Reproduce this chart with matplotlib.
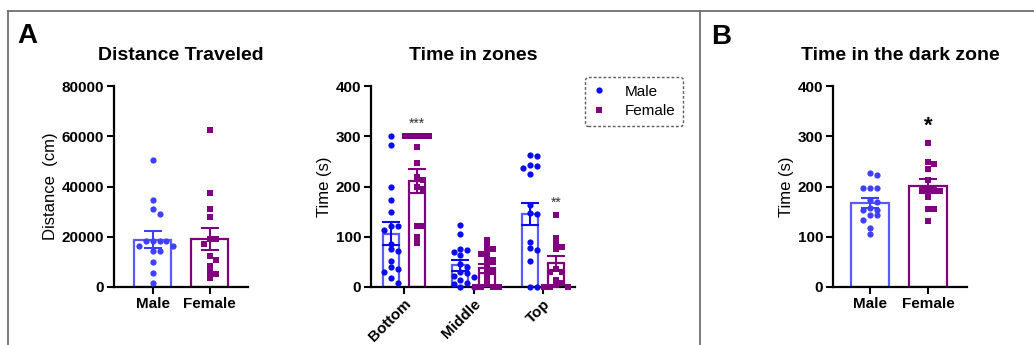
import matplotlib
matplotlib.use("Agg")
import matplotlib.pyplot as plt
import numpy as np
from matplotlib.lines import Line2D

plt.rcParams['font.family'] = ['Liberation Sans', 'DejaVu Sans']

# ---------------- data ----------------
sexes = ["Male", "Female"]
zones = ["Bottom", "Middle", "Top"]

dist_male = [50500, 34500, 31000, 29100, 18500, 18500, 18500, 18500,
             16500, 16500, 14500, 14500, 10000, 5600, 1400]
dist_female = [62500, 37600, 31100, 27800, 19100, 19100, 17300, 12200,
               10900, 8200, 6000, 5000, 3600]
dist_mean = [18900, 19100]
dist_sem = [3200, 4300]

zone_male = [
    [300, 282, 200, 173, 149, 121, 121, 113, 86, 75, 72, 51, 40, 35, 30, 17, 7],
    [123, 106, 75, 73, 70, 63, 45, 40, 30, 28, 22, 20, 13, 8, 5, 0, 0],
    [262, 260, 243, 240, 236, 225, 163, 147, 146, 90, 78, 74, 51, 0, 0],
]
zone_female = [
    [300, 300, 300, 300, 300, 278, 246, 219, 213, 200, 196, 122, 122, 100, 88],
    [93, 83, 75, 72, 66, 60, 53, 47, 37, 30, 27, 17, 5, 0, 0, 0, 0],
    [144, 98, 86, 80, 75, 35, 30, 30, 13, 7, 3, 0, 0, 0],
]
zone_male_mean = [106, 43, 146]
zone_male_sem = [23, 11, 22]
zone_female_mean = [211, 37, 47]
zone_female_sem = [23, 9, 14]
zone_stars = ["***", "", "**"]

dark_male = [226, 223, 197, 197, 197, 173, 170, 158, 154, 154, 143, 143, 133, 118, 106]
dark_female = [287, 248, 245, 235, 213, 195, 193, 193, 192, 179, 155, 155, 131]
dark_mean = [167, 201]
dark_sem = [10, 13]

# ---------------- style ----------------
MALE_PT = '#3F3FFF'
MALE_PT2 = '#0B0BF2'
MALE_BAR = '#5A5AFF'
FEM = '#800080'
W, H = 1034, 345
fig = plt.figure(figsize=(W / 100, H / 100), dpi=100)


def ax_rect(x0, x1, y0, y1):
    return [x0 / W, 1 - y1 / H, (x1 - x0) / W, (y1 - y0) / H]


def swarm(values, ppu, dpx, step_units):
    """offsets (in x data units) so markers don't overlap; ppu = px per y unit"""
    order = np.argsort(values)[::-1]
    placed = []
    offs = np.zeros(len(values))
    for i in order:
        y = values[i] * ppu
        cands = [0]
        for n in range(1, 12):
            cands += [n * 0.5, -n * 0.5]
        for c in cands:
            ok = True
            for (py, pc) in placed:
                if abs(py - y) < dpx * 0.8 and abs(pc - c) < 0.95:
                    ok = False
                    break
            if ok:
                break
        placed.append((y, c))
        offs[i] = c * dpx * step_units
    return offs


def style_axes(ax):
    for s in ['top', 'right']:
        ax.spines[s].set_visible(False)
    for s in ['left', 'bottom']:
        ax.spines[s].set_linewidth(1.6)
        ax.spines[s].set_color('black')
    ax.tick_params(axis='both', width=1.5, length=5, color='black',
                   labelsize=11, pad=2)
    for lab in ax.get_xticklabels() + ax.get_yticklabels():
        lab.set_fontweight('bold')


def draw_group(ax, x, vals, mean, sem, bar_w, edge, ptcol, marker, ms, ppu, xpx):
    ax.bar(x, mean, width=bar_w, facecolor='white', edgecolor=edge,
           linewidth=1.6, zorder=2)
    d = ms * 1.39 + 0.5
    offs = swarm(np.array(vals, float), ppu, d, 1.0 / xpx)
    ax.plot(np.full(len(vals), x) + offs, vals, linestyle='none', marker=marker,
            markersize=ms, color=ptcol, markeredgewidth=0, zorder=3, clip_on=False)
    ax.errorbar(x, mean, yerr=sem, color=ptcol, capsize=6.5, capthick=1.5,
                elinewidth=1.5, zorder=4)


# ---------- Panel A1: Distance ----------
ax1 = fig.add_axes(ax_rect(114, 248, 86, 287))
ax1.set_xlim(-0.68, 1.67)
ax1.set_ylim(0, 80000)
ppu1 = 201 / 80000
xpx1 = 134 / 2.35
draw_group(ax1, 0, dist_male, dist_mean[0], dist_sem[0], 0.65, MALE_BAR, MALE_PT, 'o', 4.5, ppu1, xpx1)
draw_group(ax1, 1, dist_female, dist_mean[1], dist_sem[1], 0.65, FEM, FEM, 's', 4.0, ppu1, xpx1)
ax1.set_xticks([0, 1])
ax1.set_xticklabels(sexes)
ax1.set_yticks(np.arange(0, 80001, 20000))
ax1.set_ylabel("Distance  (cm)", fontsize=12, labelpad=3)
ax1.set_title("Distance Traveled", fontsize=14, fontweight='bold', pad=19)
style_axes(ax1)

# ---------- Panel A2: Time in zones ----------
ax2 = fig.add_axes(ax_rect(371, 575, 86, 287))
ax2.set_xlim(-0.475, 2.46)
ax2.set_ylim(0, 400)
ppu2 = 201 / 400
xpx2 = 204 / 2.935
off = 0.19
bw = 0.23
for i in range(len(zones)):
    draw_group(ax2, i - off, zone_male[i], zone_male_mean[i], zone_male_sem[i], bw,
               MALE_BAR, MALE_PT2, 'o', 4.5, ppu2, xpx2)
    draw_group(ax2, i + off, zone_female[i], zone_female_mean[i], zone_female_sem[i], bw,
               FEM, FEM, 's', 4.0, ppu2, xpx2)
    if zone_stars[i]:
        top = max(zone_female[i])
        ax2.text(i + off, max(top, zone_female_mean[i] + zone_female_sem[i]) + 10,
                 zone_stars[i], ha='center', va='bottom', fontsize=10, color='#333333')
ax2.set_xticks(range(len(zones)))
ax2.set_xticklabels(zones, rotation=45, ha='right', rotation_mode='anchor')
ax2.set_yticks(np.arange(0, 401, 100))
ax2.set_ylabel("Time (s)", fontsize=12, labelpad=3)
ax2.set_title("Time in zones", fontsize=14, fontweight='bold', pad=19)
style_axes(ax2)

handles = [Line2D([], [], linestyle='none', marker='o', color=MALE_PT2, markersize=4.5,
                  markeredgewidth=0),
           Line2D([], [], linestyle='none', marker='s', color=FEM, markersize=4.0,
                  markeredgewidth=0)]
leg = fig.legend(handles, sexes, loc='upper left',
                 bbox_to_anchor=(585 / W, 1 - 77 / H), fontsize=11,
                 frameon=True, fancybox=True, handlelength=0.8, handletextpad=1.3,
                 borderpad=0.5, labelspacing=0.35, borderaxespad=0)
fr = leg.get_frame()
fr.set_linestyle((0, (2, 1.5)))
fr.set_edgecolor('#333333')
fr.set_linewidth(1.0)

# ---------- Panel B ----------
ax3 = fig.add_axes(ax_rect(833, 967, 86, 287))
ax3.set_xlim(-0.64, 1.67)
ax3.set_ylim(0, 400)
ppu3 = 201 / 400
xpx3 = 134 / 2.31
draw_group(ax3, 0, dark_male, dark_mean[0], dark_sem[0], 0.65, MALE_BAR, MALE_PT, 'o', 4.5, ppu3, xpx3)
draw_group(ax3, 1, dark_female, dark_mean[1], dark_sem[1], 0.65, FEM, FEM, 's', 4.0, ppu3, xpx3)
ax3.text(1, max(dark_female) + 12, "*", ha='center', va='bottom', fontsize=16,
         fontweight='bold', color='black')
ax3.set_xticks([0, 1])
ax3.set_xticklabels(sexes)
ax3.set_yticks(np.arange(0, 401, 100))
ax3.set_ylabel("Time (s)", fontsize=12, labelpad=3)
ax3.set_title("Time in the dark zone", fontsize=14, fontweight='bold', pad=19)
style_axes(ax3)

# ---------- frame lines & panel letters ----------
lc = '#707070'
fig.add_artist(Line2D([8 / W, 1], [1 - 11 / H, 1 - 11 / H], color=lc, lw=1.3))
fig.add_artist(Line2D([8 / W, 8 / W], [0, 1 - 11 / H], color=lc, lw=1.3))
fig.add_artist(Line2D([700 / W, 700 / W], [0, 1 - 11 / H], color=lc, lw=1.3))
fig.text(17 / W, 1 - 43 / H, "A", fontsize=20, fontweight='bold', ha='left', va='baseline')
fig.text(711 / W, 1 - 44 / H, "B", fontsize=20, fontweight='bold', ha='left', va='baseline')

fig.savefig("out.png", dpi=100)
